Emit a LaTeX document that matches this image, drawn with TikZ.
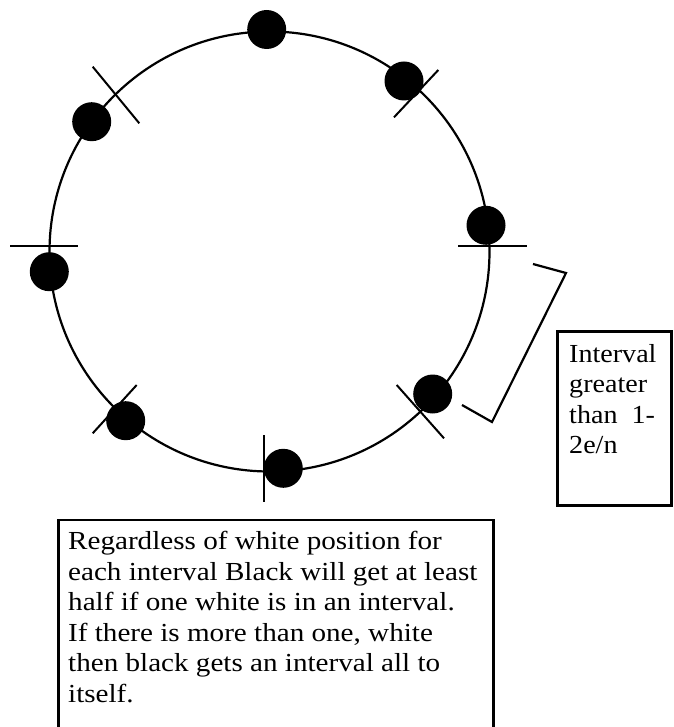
\documentclass[tikz,border=0pt]{standalone}
\usepackage{fontspec}
\setmainfont{Liberation Serif}[FakeStretch=1.08]
\newfontfamily\widefont{Liberation Serif}[FakeStretch=1.12]
\begin{document}
\begin{tikzpicture}[x=1pt,y=-1pt,
  ring/.style={draw, line width=2.2pt, circle, inner sep=0pt, minimum size=440pt},
  dot/.style={fill=black, circle, inner sep=0pt, minimum size=39pt},
  tick/.style={line width=2pt},
  frame/.style={line width=2.2pt},
  label/.style={font=\fontsize{26}{30.5}\selectfont, align=left, inner sep=0pt, anchor=north west}]
\useasboundingbox (0,0) rectangle (673,727);
% ring
\node[ring] (ring) at (269.5,251.5) {};
% interval boundary ticks
\draw[tick] (92.7,66.7) -- (139.3,123.3);
\draw[tick] (10,246) -- (78.3,246);
\draw[tick] (438.3,70) -- (394,117.3);
\draw[tick] (458,246) -- (527,246);
\draw[tick] (396.7,385) -- (444,438.3);
\draw[tick] (264.3,435) -- (264.3,502.3);
\draw[tick] (92.7,433.3) -- (136.7,385);
% black points
\node[dot] (d1) at (266.7,29.5) {};
\node[dot] (d2) at (404,81) {};
\node[dot] (d3) at (486,225.3) {};
\node[dot] (d4) at (432.7,394) {};
\node[dot] (d5) at (283.3,468.3) {};
\node[dot] (d6) at (125.7,420.7) {};
\node[dot] (d7) at (49.3,271.7) {};
\node[dot] (d8) at (91.7,121.7) {};
% bracket
\coordinate (b1) at (533,264);
\coordinate (b2) at (566,273);
\coordinate (b3) at (492,422);
\coordinate (b4) at (462,405);
\draw[frame] (b1) -- (b2) -- (b3) -- (b4);
% right box
\draw[frame] (557.5,331.5) rectangle (671.5,505.5);
\node[label] (lab1) at (569,344) {Interval\\greater\\than\ \ 1-\\2e/n};
% bottom box (open at the bottom edge)
\draw[frame] (58.5,727) -- (58.5,520) -- (493.5,520) -- (493.5,727);
\node[label, font=\widefont\fontsize{26}{30.5}\selectfont] (lab2) at (68,531) {Regardless of white position for\\each interval Black will get at least\\half if one white is in an interval.\\If there is more than one, white\\then black gets an interval all to\\itself.};
\end{tikzpicture}
\end{document}
